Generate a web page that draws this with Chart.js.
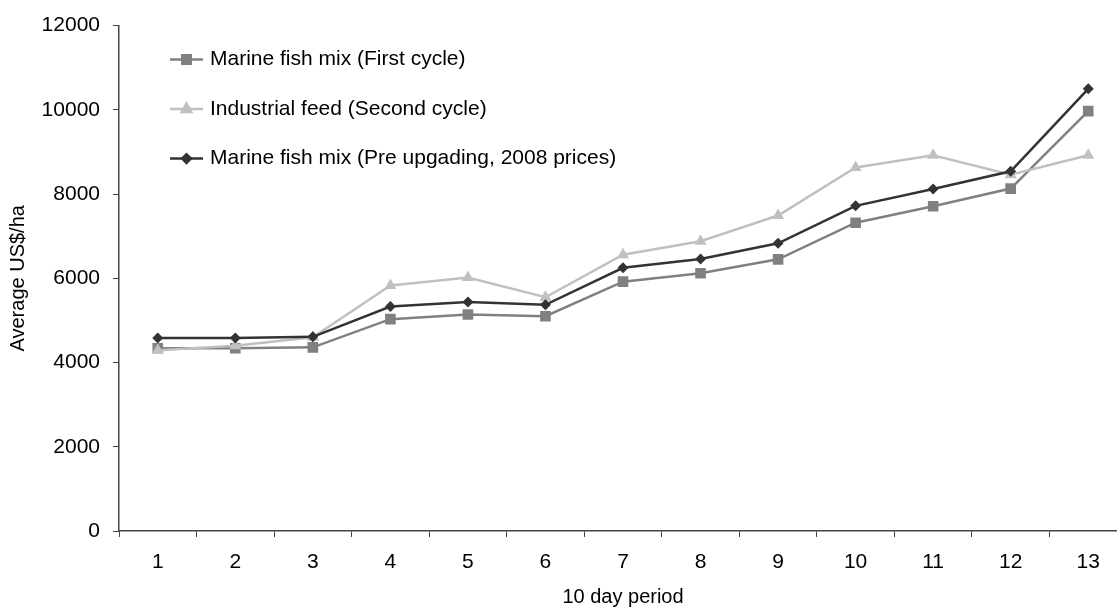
<!DOCTYPE html>
<html>
<head>
<meta charset="utf-8">
<title>Average US$/ha per 10 day period</title>
<script src="https://cdn.jsdelivr.net/npm/chart.js@4.4.0/dist/chart.umd.min.js"></script>
<style>
	html, body { margin: 0; padding: 0; background: #fff; overflow: hidden; }
	#wrap { width: 1140px; height: 609px; }
</style>
</head>
<body>
<div id="wrap"><canvas id="chart"></canvas></div>
<script>
const periods = ['1', '2', '3', '4', '5', '6', '7', '8', '9', '10', '11', '12', '13'];
const yTicks = [0, 2000, 4000, 6000, 8000, 10000, 12000];

// Marine fish mix (First cycle)
const firstCycle = [4340, 4340, 4360, 5030, 5140, 5100, 5920, 6120, 6450, 7320, 7710, 8130, 9970];
// Industrial feed (Second cycle)
const secondCycle = [4290, 4400, 4600, 5830, 6020, 5550, 6560, 6880, 7490, 8630, 8920, 8460, 8920];
// Marine fish mix (Pre upgading, 2008 prices)
const preUpgrade = [4580, 4580, 4610, 5330, 5440, 5370, 6250, 6460, 6830, 7720, 8120, 8540, 10500];

const FONT = 'Liberation Sans, Arial, sans-serif';

// legend drawn inside the plot, top left
const insideLegend = {
	id: 'insideLegend',
	afterDatasetsDraw(chart) {
		const ctx = chart.ctx;
		const area = chart.chartArea;
		ctx.save();
		chart.data.datasets.forEach((ds, i) => {
			const y = area.top + 34 + i * 49.5;
			const x0 = area.left + 51;
			ctx.strokeStyle = ds.borderColor;
			ctx.fillStyle = ds.borderColor;
			ctx.lineWidth = 2.5;
			ctx.beginPath();
			ctx.moveTo(x0, y);
			ctx.lineTo(x0 + 33, y);
			ctx.stroke();
			Chart.helpers.drawPoint(ctx, {
				pointStyle: ds.pointStyle,
				radius: ds.pointRadius * 0.8,
				borderWidth: 1,
				rotation: 0
			}, x0 + 16.5, y);
			ctx.fillStyle = '#000';
			ctx.font = '21px ' + FONT;
			ctx.textBaseline = 'middle';
			ctx.textAlign = 'left';
			ctx.fillText(ds.label, x0 + 40, y);
		});
		ctx.restore();
	}
};

new Chart(document.getElementById('chart'), {
	type: 'line',
	data: {
		labels: periods,
		datasets: [
			{
				label: 'Marine fish mix (First cycle)',
				data: firstCycle,
				borderColor: '#808080',
				backgroundColor: '#808080',
				borderWidth: 2.5,
				pointStyle: 'rect',
				pointRadius: 7.5,
				pointBorderWidth: 0,
				order: 3
			},
			{
				label: 'Industrial feed (Second cycle)',
				data: secondCycle,
				borderColor: '#c0c0c0',
				backgroundColor: '#c0c0c0',
				borderWidth: 2.5,
				pointStyle: 'triangle',
				pointRadius: 7,
				pointBorderWidth: 0,
				order: 2
			},
			{
				label: 'Marine fish mix (Pre upgading, 2008 prices)',
				data: preUpgrade,
				borderColor: '#333333',
				backgroundColor: '#333333',
				borderWidth: 2.5,
				pointStyle: 'rectRot',
				pointRadius: 5.5,
				pointBorderWidth: 0,
				order: 1
			}
		]
	},
	options: {
		responsive: true,
		maintainAspectRatio: false,
		animation: false,
		layout: {
			padding: { top: 25, right: 13, left: 0, bottom: 0 }
		},
		plugins: {
			legend: { display: false },
			tooltip: { enabled: false }
		},
		scales: {
			x: {
				offset: true,
				grid: {
					offset: true,
					drawOnChartArea: false,
					drawTicks: true,
					tickLength: 6,
					color: '#444'
				},
				border: { display: true, color: '#444', width: 1.5 },
				ticks: {
					color: '#000',
					font: { family: FONT, size: 21 },
					padding: 13,
					maxRotation: 0
				},
				title: {
					display: true,
					text: '10 day period',
					color: '#000',
					font: { family: FONT, size: 20 },
					padding: { top: 0, bottom: 0 }
				},
				afterFit(scale) { scale.height = 78; }
			},
			y: {
				min: 0,
				max: 12000,
				afterBuildTicks(scale) { scale.ticks = yTicks.map(v => ({ value: v })); },
				grid: {
					drawOnChartArea: false,
					drawTicks: true,
					tickLength: 6,
					color: '#444'
				},
				border: { display: true, color: '#444', width: 1.5 },
				ticks: {
					color: '#000',
					font: { family: FONT, size: 21 },
					padding: 13,
					callback: v => String(v)
				},
				title: {
					display: true,
					text: 'Average US$/ha',
					color: '#000',
					font: { family: FONT, size: 20 },
					padding: { top: 6, bottom: 0 }
				},
				afterFit(scale) { scale.width = 119; }
			}
		}
	},
	plugins: [insideLegend]
});
</script>
</body>
</html>
